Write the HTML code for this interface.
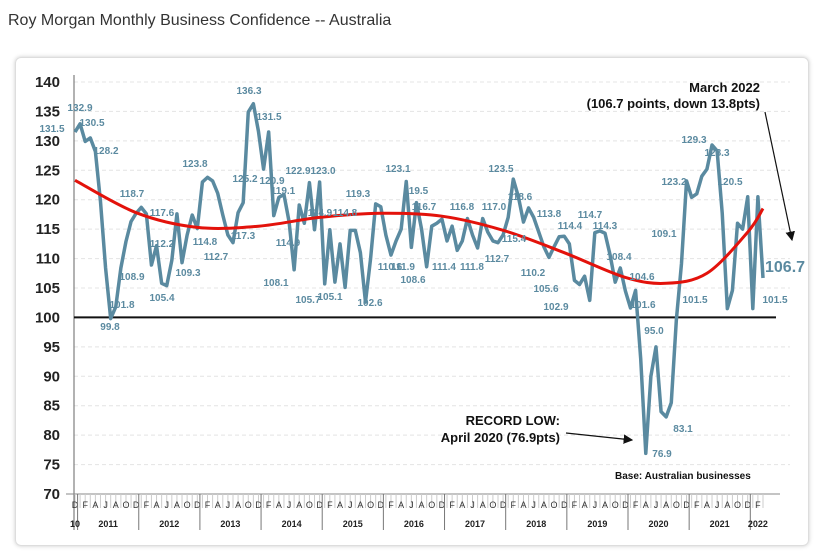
<!DOCTYPE html>
<html><head><meta charset="utf-8"><style>
body{margin:0;width:823px;height:553px;background:#fff;font-family:"Liberation Sans",sans-serif;overflow:hidden}
#title{position:absolute;left:8px;top:12px;font-size:16px;color:#333}
#box{position:absolute;left:15px;top:57px;width:792px;height:487px;border:1px solid #ddd;border-radius:6px;box-shadow:0 0 4px #ccc}
svg{position:absolute;left:0;top:0}
</style></head><body>
<div id="title">Roy Morgan Monthly Business Confidence -- Australia</div>
<div id="box"></div>
<svg id="c" width="823" height="553"></svg>
<script>
const values=[131.5,132.9,129.9,130.5,128.2,119.7,108.4,99.8,101.8,108.4,112.9,116.3,117.7,118.7,117.6,108.9,112.2,105.8,105.4,109.7,117.6,109.3,114,117.4,115.1,123,123.8,123.2,121.1,117.4,114,112.7,117.8,119.5,134.9,136.3,131.6,125.2,131.5,117.3,120.4,120.9,116.3,108.1,119.1,116,122.9,
114.9,123.0,105.7,114.9,106,112.5,105.1,114.8,114.8,111,102.6,110,119.3,118.8,114,110.6,113,115,123.1,111.9,119.5,115,108.6,115.5,116,116.7,113,115.5,111.4,113,116.8,114,111.8,116.8,114.5,113,112.7,114,117,123.5,120.5,116.2,118.6,117,114.5,112,
110.2,112,113.7,113.8,112.5,106.3,105.6,107,102.9,114.4,114.7,114.3,110.6,106,108.4,104.5,101.6,104.6,93,76.9,90,95,84,83.1,85.5,99.6,109.1,123.2,120.4,121,124,125.2,129.3,128.3,117.7,101.5,104.6,116,115,120.5,101.5,120.5,106.7];
const trendIdx=[0,12,24,36,48,60,72,84,96,108,116,124,132,135];
const trendVal=[123.3,117.8,115.3,115.5,117,117.7,117.2,114.8,111,106.8,105.8,107.5,114.5,118.5];
const yTicks=[70,75,80,85,90,95,100,105,110,115,120,125,130,135,140];
const years=["2011","2012","2013","2014","2015","2016","2017","2018","2019","2020","2021","2022"];
const monthLetters=["D","F","A","J","A","O"];
const labels=[["131.5",52,132],["132.9",80,111],["130.5",92,126],["128.2",106,154],["99.8",110,330],["101.8",122,308],["118.7",132,197],["108.9",132,280],["112.2",162,247],["105.4",162,301],["117.6",162,216],["109.3",188,276],["123.8",195,167],["114.8",205,245],["112.7",216,260],["136.3",249,94],["131.5",269,120],["125.2",245,182],["117.3",243,239],["120.9",272,184],["119.1",283,194],["108.1",276,286],["122.9",298,174],["114.9",288,246],["123.0",323,174],["114.9",320,216],["105.7",308,303],["114.8",345,216],["105.1",330,300],["119.3",358,197],["102.6",370,306],["110.6",390,270],["111.9",403,270],["123.1",398,172],["119.5",416,194],["108.6",413,283],["116.7",424,210],["111.4",444,270],["116.8",462,210],["111.8",472,270],["117.0",494,210],["112.7",497,262],["123.5",501,172],["118.6",520,200],["115.4",514,242],["110.2",533,276],["113.8",549,217],["105.6",546,292],["102.9",556,310],["114.4",570,229],["114.7",590,218],["114.3",605,229],["108.4",619,260],["104.6",642,280],["101.6",643,308],["95.0",654,334],["76.9",662,457],["83.1",683,432],["109.1",664,237],["123.2",674,185],["129.3",694,143],["128.3",717,156],["120.5",730,185],["101.5",695,303],["101.5",775,303]];
const NS="http://www.w3.org/2000/svg",svg=document.getElementById('c');
const x0=75,x1=763,yTop=82,yBot=494;
const X=i=>x0+(x1-x0)*i/(values.length-1);
const Y=v=>yBot-(v-70)*(yBot-yTop)/70;
function mk(t,a,p){const e=document.createElementNS(NS,t);for(const k in a)e.setAttribute(k,a[k]);(p||svg).appendChild(e);return e;}
yTicks.forEach(v=>{
 if(v>70&&v!==100){const g=mk('line',{x1:74,x2:790,y1:Y(v),y2:Y(v),stroke:'#e4e4e4','stroke-dasharray':'4,3'});
 
 }
 const t=mk('text',{x:60,y:Y(v)+5,'text-anchor':'end','font-size':15,'font-weight':'bold',fill:'#222'});t.textContent=v;
 
 
});
mk('line',{x1:74,x2:74,y1:75,y2:530,stroke:'#666','stroke-width':1});
mk('line',{x1:66,x2:780,y1:yBot,y2:yBot,stroke:'#888','stroke-width':1});
const base=mk('line',{x1:74,x2:776,y1:Y(100),y2:Y(100),stroke:'#111','stroke-width':2});


for(let i=0;i<values.length;i++){
 mk('line',{x1:X(i),x2:X(i),y1:yBot,y2:yBot+14,stroke:'#ccc','stroke-width':1});
 if(i%2===0){const t=mk('text',{x:X(i),y:yBot+14,'text-anchor':'middle','font-size':9,fill:'#333'});t.textContent=monthLetters[(i/2)%6];}
}
years.forEach((y,k)=>{
 const s=1+12*k;
 mk('line',{x1:X(s)-2.5,x2:X(s)-2.5,y1:yBot,y2:530,stroke:'#777'});
 const e=Math.min(s+11,values.length-1);
 const t=mk('text',{x:(X(s)+X(e))/2,y:527,'text-anchor':'middle','font-size':9,'font-weight':'bold',fill:'#222'});t.textContent=y;
 
 
});
{const t=mk('text',{x:75,y:527,'text-anchor':'middle','font-size':9,'font-weight':'bold',fill:'#222'});t.textContent='10';}
const line=mk('polyline',{points:values.map((v,i)=>X(i)+','+Y(v)).join(' '),fill:'none',stroke:'#5a8aa0','stroke-width':3.5,'stroke-linejoin':'round'});


const P=trendIdx.map((ix,k)=>[X(ix),Y(trendVal[k])]);
let d='M'+P[0];
for(let k=0;k<P.length-1;k++){const p0=P[k-1]||P[k],p1=P[k],p2=P[k+1],p3=P[k+2]||P[k+1];
 d+=' C'+(p1[0]+(p2[0]-p0[0])/6)+','+(p1[1]+(p2[1]-p0[1])/6)+' '+(p2[0]-(p3[0]-p1[0])/6)+','+(p2[1]-(p3[1]-p1[1])/6)+' '+p2;}
const tr=mk('path',{d:d,fill:'none',stroke:'#e3120b','stroke-width':3});


labels.forEach(l=>{const t=mk('text',{x:l[1],y:l[2],'text-anchor':'middle','font-size':10,'font-weight':'bold',fill:'#5b8aa0'});t.textContent=l[0];
 
 });
function txt(s,x,y,a,sz,col,name){const t=mk('text',{x:x,y:y,'text-anchor':a,'font-size':sz,'font-weight':'bold',fill:col});t.textContent=s;
 
 }
txt('March 2022',760,92,'end',13,'#111','annotation-march-2022');
txt('(106.7 points, down 13.8pts)',760,108,'end',13,'#111','annotation-march-2022-detail');
txt('106.7',765,272,'start',16,'#5b8aa0','latest-value');
txt('RECORD LOW:',560,425,'end',13,'#111','annotation-record-low');
txt('April 2020 (76.9pts)',560,442,'end',13,'#111','annotation-record-low-detail');
txt('Base: Australian businesses',615,479,'start',10,'#111','base-note');
mk('defs',{}).innerHTML='<marker id="ar" markerWidth="8" markerHeight="8" refX="7" refY="4" orient="auto"><path d="M0,0L8,4L0,8z" fill="#111"/></marker>';
mk('line',{x1:765,y1:112,x2:792,y2:240,stroke:'#111','stroke-width':1.2,'marker-end':'url(#ar)'});
mk('line',{x1:566,y1:433,x2:632,y2:440,stroke:'#111','stroke-width':1.2,'marker-end':'url(#ar)'});
</script></body></html>
